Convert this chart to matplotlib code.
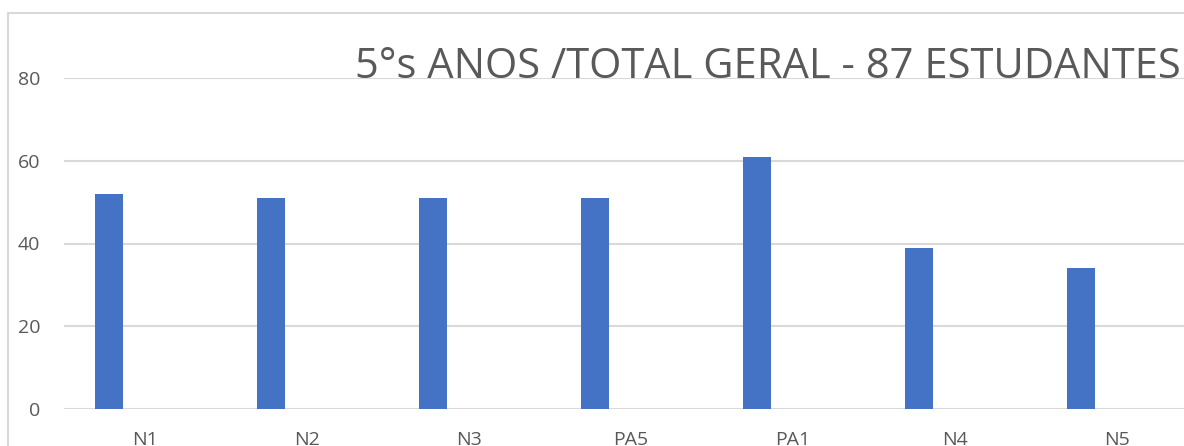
import numpy as np
import matplotlib.pyplot as plt
from matplotlib.patches import Rectangle

categories = ["N1", "N2", "N3", "PA5", "PA1", "N4", "N5"]
values = [52, 51, 51, 51, 61, 39, 34]
yticks = [0, 20, 40, 60, 80]
title = "5°s ANOS /TOTAL GERAL - 87 ESTUDANTES"

GRAY = "#595959"
BLUE = "#4472C4"
GRID = "#d9d9d9"

fig = plt.figure(figsize=(11.84, 4.46), dpi=100)

# chart frame, runs off the right and bottom edges
fig.patches.append(Rectangle((8 / 1184, -0.1), 1.2, (446 - 13) / 446 + 0.1,
                             transform=fig.transFigure, fill=False,
                             edgecolor=GRID, linewidth=1.5))

ax = fig.add_axes([64 / 1184, 37 / 446, 1134 / 1184, 331 / 446])
x = np.arange(len(categories))
ax.bar(x - 0.222, values, width=0.173, color=BLUE, zorder=3)

ax.set_xlim(-0.5, len(categories) - 0.5)
ax.set_ylim(0, 80)
ax.set_yticks(yticks)
ax.set_xticks(x)
ax.set_xticklabels(categories)
ax.tick_params(axis="both", length=0, labelcolor=GRAY, labelsize=14)
ax.tick_params(axis="y", pad=17)
ax.tick_params(axis="x", pad=16)
for lab in ax.get_xticklabels() + ax.get_yticklabels():
    lab.set_fontfamily("Open Sans")
ax.grid(axis="y", color=GRID, linewidth=1.5, zorder=0)
for s in ax.spines.values():
    s.set_visible(False)

fig.text(1181 / 1184, (446 - 78) / 446, title, ha="right", va="baseline",
         fontsize=30, color=GRAY, family="Open Sans")

fig.savefig("out.png", dpi=100)
